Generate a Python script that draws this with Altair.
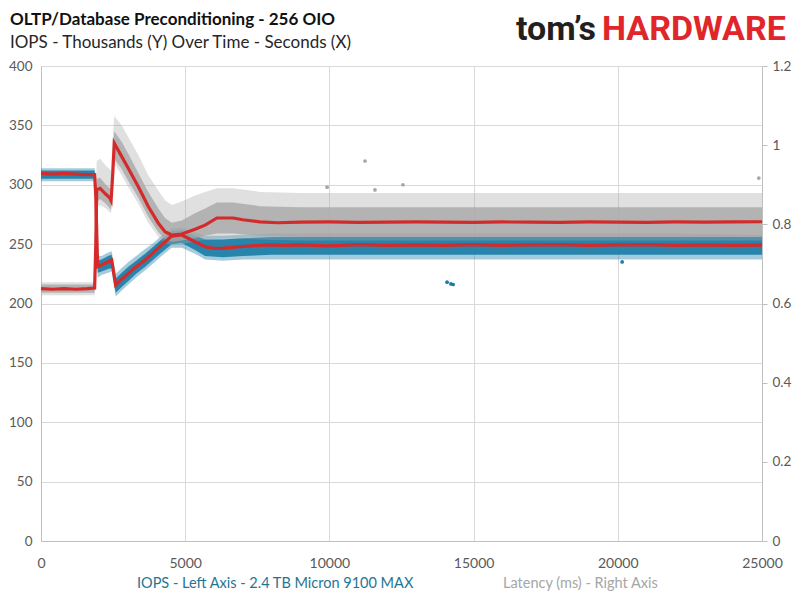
import altair as alt
import pandas as pd

# ---------------- data ----------------
# IOPS (thousands) moving-average line
iops_t = [0, 400, 800, 1200, 1600, 1860, 1900, 1965, 2100, 2330, 2450, 2520, 2590, 2800,
          3030, 3300, 3610, 3900, 4180, 4530, 4880, 5340, 5690, 6000, 6300, 6800, 7300,
          7900, 8500, 9000, 10000, 11000, 12000, 13000, 14000, 15000, 16000, 17000, 18000,
          19000, 20000, 21000, 22000, 23000, 24000, 25000]
iops_v = [309.5, 309, 309.5, 309, 308.5, 308.5, 290, 231, 232.4, 235.2, 236.6, 226, 215.6, 220.5,
          225.4, 231, 236.6, 243, 249.3, 256.8, 257.7, 252, 247.8, 246.5, 246.7, 247.6, 248.5,
          249.3, 249, 249.3, 248.6, 249.5, 249, 249.3, 249, 249.5, 249, 249.3, 249.6,
          249, 249.3, 249.5, 249, 249.4, 249, 249.2]

# Latency (ms) moving-average line
lat_t = [0, 400, 800, 1200, 1600, 1860, 1900, 1930, 2050, 2250, 2390, 2430, 2490, 2540, 2800,
         3030, 3375, 3720, 4070, 4300, 4530, 4880, 5340, 5690, 6100, 6660, 7000, 7590, 8200,
         9000, 10000, 11000, 12000, 13000, 14000, 15000, 16000, 17000, 18000, 19000, 20000,
         21000, 22000, 23000, 24000, 25000]
lat_v = [0.6375, 0.636, 0.6375, 0.636, 0.6375, 0.639, 0.75, 0.887, 0.891, 0.876, 0.866, 0.86, 0.93, 1.005, 0.971,
         0.941, 0.895, 0.845, 0.8025, 0.7815, 0.773, 0.7755, 0.7875, 0.798, 0.816, 0.816, 0.8115, 0.806, 0.804,
         0.8055, 0.806, 0.805, 0.8055, 0.806, 0.8055, 0.805, 0.806, 0.8055, 0.805, 0.806, 0.8055,
         0.805, 0.806, 0.8055, 0.806, 0.8065]

# IOPS scatter band (dense core and sparse fringe)
iops_band_t = [0, 1860, 1900, 1965, 2100, 2330, 2450, 2520, 2590, 2800, 3030, 3300, 3610, 3900,
               4180, 4530, 4880, 5340, 5690, 6300, 7000, 8000, 10000, 13000, 16000, 19000, 22000, 25000]
iops_dense_lo = [305, 305, 285, 226, 227, 229, 230, 220, 209, 214, 219, 225, 231, 237,
                 243, 250, 251, 245, 240, 239, 240, 241, 241, 241, 241, 241, 241, 241]
iops_dense_hi = [312, 312, 295, 236, 237, 240, 241, 231, 221, 226, 231, 236, 242, 248,
                 254, 261, 262, 257, 254, 254, 255, 256, 256, 256, 256, 256, 256, 256]
iops_sparse_lo = [303, 303, 283, 222, 224, 226, 227, 216, 206, 211, 216, 222, 228, 234,
                  240, 247, 247, 242, 237, 236, 237, 237, 237, 237, 237, 237, 237, 237]
iops_sparse_hi = [314, 314, 298, 240, 240, 243, 244, 235, 225, 230, 235, 240, 246, 251,
                  257, 263, 264, 260, 257, 257, 258, 259, 259, 259, 259, 259, 259, 258]

# Latency scatter band (ms)
lat_band_t = [0, 1860, 1900, 1930, 2050, 2250, 2430, 2490, 2540, 2800, 3030, 3375, 3720, 4070,
              4300, 4530, 4880, 5340, 5690, 6100, 6660, 7590, 9000, 12000, 15000, 18000, 21000,
              24000, 25000]
lat_dense_lo = [0.627, 0.627, 0.72, 0.855, 0.864, 0.852, 0.837, 0.90, 0.966, 0.939, 0.909, 0.867, 0.819, 0.78,
                0.762, 0.756, 0.759, 0.765, 0.771, 0.777, 0.777, 0.771, 0.768, 0.768, 0.768, 0.768, 0.768,
                0.768, 0.768]
lat_dense_hi = [0.648, 0.648, 0.786, 0.915, 0.918, 0.90, 0.888, 0.975, 1.035, 1.008, 0.978, 0.93, 0.882, 0.84,
                0.816, 0.804, 0.81, 0.828, 0.84, 0.855, 0.855, 0.846, 0.843, 0.843, 0.843, 0.843, 0.843,
                0.843, 0.843]
lat_sparse_lo = [0.621, 0.621, 0.708, 0.84, 0.849, 0.84, 0.828, 0.885, 0.954, 0.924, 0.894, 0.852, 0.804, 0.768,
                 0.753, 0.747, 0.75, 0.756, 0.762, 0.765, 0.765, 0.762, 0.759, 0.759, 0.759, 0.759, 0.759,
                 0.759, 0.759]
lat_sparse_hi = [0.654, 0.654, 0.81, 0.96, 0.966, 0.948, 0.936, 1.02, 1.074, 1.05, 1.02, 0.975, 0.924, 0.885,
                 0.861, 0.849, 0.858, 0.873, 0.882, 0.891, 0.891, 0.882, 0.879, 0.879, 0.879, 0.879, 0.879,
                 0.879, 0.879]

# isolated dots
iops_out_t = [14080, 14215, 14290, 20150]
iops_out_v = [218, 216.5, 216, 235]
lat_out_t = [9920, 11234, 11580, 12550, 24890]
lat_out_v = [0.894, 0.96, 0.887, 0.90, 0.917]

x_ticks = [0, 5000, 10000, 15000, 20000, 25000]
left_ticks = [0, 50, 100, 150, 200, 250, 300, 350, 400]
right_ticks = [0, 0.2, 0.4, 0.6, 0.8, 1.0, 1.2]

title_text = "OLTP/Database Preconditioning - 256 OIO"
subtitle_text = "IOPS - Thousands (Y) Over Time - Seconds (X)"
legend_iops = "IOPS - Left Axis - 2.4 TB Micron 9100 MAX"
legend_lat = "Latency (ms) - Right Axis"

# ---------------- styling ----------------
BLUE = "#1B7CA5"
GRAY = "#A6A6A6"
RED = "#D42A2A"
FONT = "Lato"
LABEL = "#595959"
LINEC = "#BFBFBF"
GRIDC = "#D9D9D9"

xscale = alt.Scale(domain=[0, 25000], nice=False, zero=False)
xaxis = alt.Axis(values=x_ticks, format="d", grid=True, gridColor=GRIDC, ticks=False,
                 domainColor=LINEC, labelColor=LABEL, labelFont=FONT, labelFontSize=14,
                 labelPadding=15, labelFlush=False, title=None)
X = alt.X("t:Q", scale=xscale, axis=xaxis, title=None)

lscale = alt.Scale(domain=[0, 400], nice=False)
rscale = alt.Scale(domain=[0, 1.2], nice=False)
laxis = alt.Axis(values=left_ticks, grid=True, gridColor=GRIDC, ticks=False, domainColor=LINEC,
                 labelColor=LABEL, labelFont=FONT, labelFontSize=13.5, labelPadding=9,
                 labelFlush=False, title=None)
raxis = alt.Axis(orient="right", values=right_ticks, format=".1~f", grid=False, ticks=True,
                 tickSize=5, tickColor=LINEC, domainColor=LINEC, labelColor=LABEL, labelFont=FONT,
                 labelFontSize=13.5, labelPadding=5, labelFlush=False, title=None)

iops_band = pd.DataFrame({"t": iops_band_t, "dlo": iops_dense_lo, "dhi": iops_dense_hi,
                          "slo": iops_sparse_lo, "shi": iops_sparse_hi})
lat_band = pd.DataFrame({"t": lat_band_t, "dlo": lat_dense_lo, "dhi": lat_dense_hi,
                         "slo": lat_sparse_lo, "shi": lat_sparse_hi})
iops_line = pd.DataFrame({"t": iops_t, "v": iops_v})
lat_line = pd.DataFrame({"t": lat_t, "v": lat_v})
iops_out = pd.DataFrame({"t": iops_out_t, "v": iops_out_v})
lat_out = pd.DataFrame({"t": lat_out_t, "v": lat_out_v})

layers = [
    alt.Chart(iops_band).mark_area(color=BLUE, opacity=0.4).encode(
        x=X, y=alt.Y("slo:Q", scale=lscale, axis=laxis), y2="shi:Q"),
    alt.Chart(iops_band).mark_area(color=BLUE, opacity=0.9).encode(
        x=X, y=alt.Y("dlo:Q", scale=lscale, axis=None), y2="dhi:Q"),
    alt.Chart(iops_out).mark_circle(color=BLUE, size=14, opacity=1).encode(
        x=X, y=alt.Y("v:Q", scale=lscale, axis=None)),
    alt.Chart(lat_band).mark_area(color=GRAY, opacity=0.35).encode(
        x=X, y=alt.Y("slo:Q", scale=rscale, axis=raxis), y2="shi:Q"),
    alt.Chart(lat_band).mark_area(color=GRAY, opacity=0.78).encode(
        x=X, y=alt.Y("dlo:Q", scale=rscale, axis=None), y2="dhi:Q"),
    alt.Chart(lat_out).mark_circle(color=GRAY, size=14, opacity=1).encode(
        x=X, y=alt.Y("v:Q", scale=rscale, axis=None)),
    alt.Chart(iops_line).mark_line(color=RED, strokeWidth=3.2).encode(
        x=X, y=alt.Y("v:Q", scale=lscale, axis=None)),
    alt.Chart(lat_line).mark_line(color=RED, strokeWidth=3.2).encode(
        x=X, y=alt.Y("v:Q", scale=rscale, axis=None)),
]


def label(text, x, y, size, color, weight="normal", align="left", font=FONT):
    return alt.Chart(pd.DataFrame({"s": [text]})).mark_text(
        align=align, baseline="alphabetic", font=font, fontSize=size, fontWeight=weight,
        color=color).encode(text="s:N", x=alt.value(x), y=alt.value(y))


layers += [
    label(title_text, -31, -41, 17, "#111111", weight="bold"),
    label(subtitle_text, -31, -18, 17, "#262626"),
    label("tom\u2019s", 555, -26, 34, "#231F20", weight="bold", align="right", font="Roboto"),
    label("HARDWARE", 561, -26, 34, "#E0262B", weight="bold", font="Roboto"),
    label(legend_iops, 96, 522, 14.5, "#1F7694"),
    label(legend_lat, 462, 522, 14.5, "#A6A6A6"),
]

chart = alt.layer(*layers).resolve_scale(y="independent").properties(
    width=721, height=475,
    autosize=alt.AutoSizeParams(type="none"),
    padding={"left": 33, "top": 58, "right": 30, "bottom": 51},
    background="white",
).configure_view(stroke=None)

chart.save("out.html", embed_options={"renderer": "svg", "actions": False})
